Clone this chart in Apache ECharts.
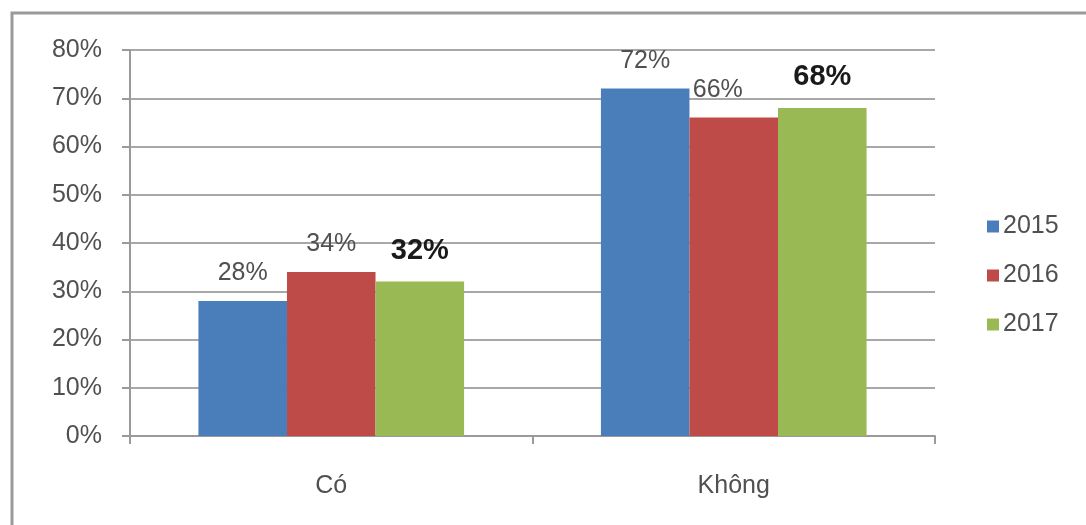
<!DOCTYPE html>
<html>
<head>
<meta charset="utf-8">
<script src="https://cdn.jsdelivr.net/npm/echarts@6/dist/echarts.min.js"></script>
<style>
html,body{margin:0;padding:0;background:#fff;}
#c{width:1086px;height:525px;}
</style>
</head>
<body>
<div id="c"></div>
<script>
var categories = ['Có', 'Không'];
var seriesNames = ['2015', '2016', '2017'];
var values2015 = [28, 72];
var values2016 = [34, 66];
var values2017 = [32, 68];
var yTicks = [0, 10, 20, 30, 40, 50, 60, 70, 80];

var colors = ['#4a7ebb', '#be4b48', '#98b954'];
var allValues = [values2015, values2016, values2017];
var font = '"Liberation Sans", Arial, sans-serif';

var chart = echarts.init(document.getElementById('c'), null, {renderer: 'canvas'});

var series = allValues.map(function (vals, i) {
  var bold = (i === 2);
  return {
    name: seriesNames[i],
    type: 'bar',
    data: vals.map(function (v, j) {
      var d = {value: v};
      if (i === 1 && j === 1) d.label = {offset: [-16, 0]};
      return d;
    }),
    barGap: '0%',
    barCategoryGap: '34%',
    itemStyle: {color: colors[i]},
    label: {
      show: true,
      position: 'top',
      distance: bold ? 16 : 15,
      formatter: '{c}%',
      fontFamily: font,
      fontSize: bold ? 29 : 25,
      fontWeight: bold ? 'bold' : 'normal',
      color: bold ? '#1a1a1a' : '#505050'
    }
  };
});

chart.setOption({
  animation: false,
  backgroundColor: '#ffffff',
  graphic: [{
    type: 'rect',
    shape: {x: 12, y: 13, width: 1100, height: 560},
    style: {fill: 'none', stroke: '#9a9a9a', lineWidth: 3},
    silent: true
  }],
  grid: {left: 130, right: 151, top: 50, bottom: 89, containLabel: false},
  legend: {
    orient: 'vertical',
    left: 982,
    top: 209,
    itemWidth: 12,
    itemHeight: 12,
    itemGap: 24,
    icon: 'rect',
    data: seriesNames,
    textStyle: {fontFamily: font, fontSize: 25, color: '#505050', padding: [0, 0, 0, -1]}
  },
  xAxis: {
    type: 'category',
    data: categories,
    axisLine: {show: true, lineStyle: {color: '#9a9a9a', width: 2}},
    axisTick: {show: true, length: 8, lineStyle: {color: '#9a9a9a', width: 2}},
    axisLabel: {fontFamily: font, fontSize: 25, color: '#505050', margin: 38}
  },
  yAxis: {
    type: 'value',
    min: yTicks[0],
    max: yTicks[yTicks.length - 1],
    interval: yTicks[1] - yTicks[0],
    axisLine: {show: true, lineStyle: {color: '#9a9a9a', width: 2}},
    axisTick: {show: true, length: 8, inside: false, lineStyle: {color: '#9a9a9a', width: 2}},
    splitLine: {show: true, lineStyle: {color: '#a8a8a8', width: 2}},
    axisLabel: {fontFamily: font, fontSize: 25, color: '#505050', margin: 28, formatter: '{value}%'}
  },
  series: series
});
</script>
</body>
</html>
